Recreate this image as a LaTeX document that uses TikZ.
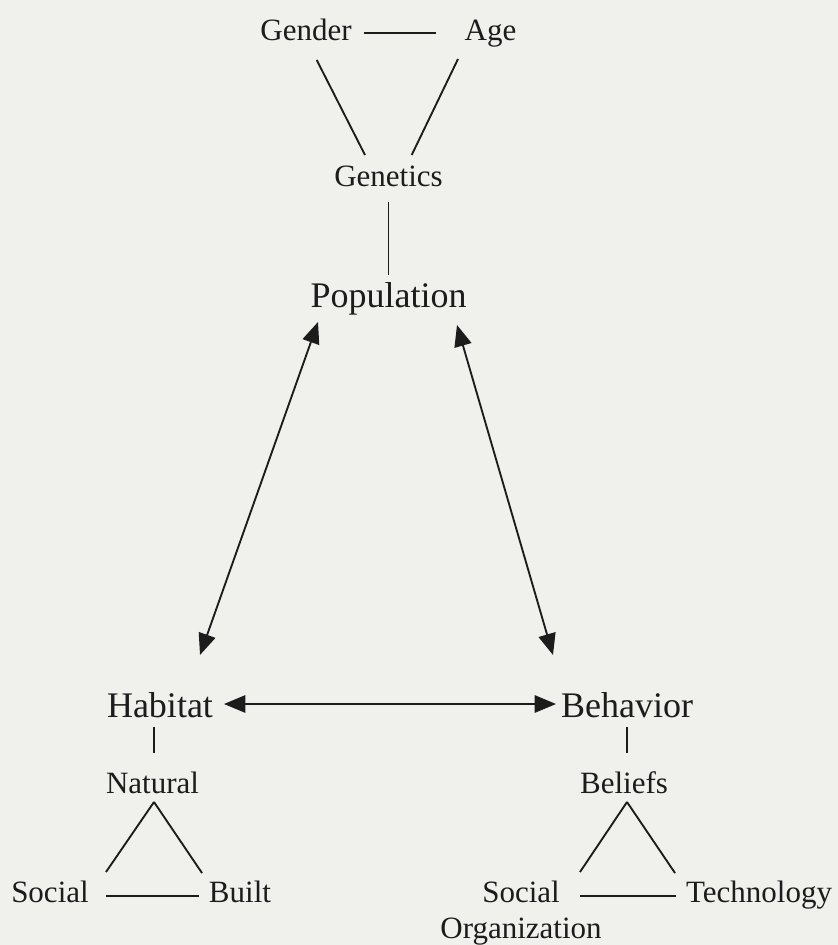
\documentclass[tikz,border=0pt]{standalone}
\usepackage{fontspec}
\setmainfont{Liberation Serif}
\usetikzlibrary{calc,arrows.meta}
\definecolor{paper}{RGB}{240,240,237}
\definecolor{ink}{RGB}{28,28,28}
\begin{document}
\begin{tikzpicture}[x=0.75pt,y=0.75pt,yscale=-1,xscale=1,
  lbl/.style={anchor=base,inner sep=0.75pt,text=ink,font=\fontsize{23.25}{27}\selectfont},
  biglbl/.style={lbl,font=\fontsize{27}{32}\selectfont},
  link/.style={draw=ink,line width=1.4pt},
  dbl/.style={link,{Triangle[length=16pt,width=13pt]}-{Triangle[length=16pt,width=13pt]}}]
%set diagram to the size of the page
\fill [paper] (0,0) rectangle (838,945);
\useasboundingbox (0,0) rectangle (838,945);

% Text Node
\draw (306,41) node [lbl] (gender) {Gender};
% Text Node
\draw (490.5,41) node [lbl] (age) {Age};
% Text Node
\draw (388.5,186.7) node [lbl] (genetics) {Genetics};
% Text Node
\draw (388.5,307) node [biglbl] (population) {Population};
% Text Node
\draw (160,717) node [biglbl] (habitat) {Habitat};
% Text Node
\draw (627,717) node [biglbl] (behavior) {Behavior};
% Text Node
\draw (152.5,793) node [lbl] (natural) {Natural};
% Text Node
\draw (624,793) node [lbl] (beliefs) {Beliefs};
% Text Node
\draw (50,902) node [lbl] (social) {Social};
% Text Node
\draw (240,902) node [lbl] (built) {Built};
% Text Node
\draw (521,938) node [lbl,align=center] (socorg) {Social\\Organization};
% Text Node
\draw (759,902) node [lbl] (technology) {Technology};

%Straight Lines
\draw [link] ($(gender.base)+(58,-8)$) -- ($(age.base)+(-54.5,-8)$);
\draw [link] ($(gender.base)+(10.7,19)$) -- ($(genetics.base)+(-23.5,-31.7)$);
\draw [link] ($(age.base)+(-32.5,18)$) -- ($(genetics.base)+(23.2,-31.7)$);
\draw [link] ($(genetics.base)+(0,15.3)$) -- ($(population.base)+(0,-32)$);
%Double Arrows
\draw [dbl] ($(population.base)+(-70.5,15)$) -- ($(habitat.base)+(40,-62)$);
\draw [dbl] ($(population.base)+(68.5,18)$) -- ($(behavior.base)+(-74,-62)$);
\draw [dbl] ($(habitat.base)+(64,-13)$) -- ($(behavior.base)+(-71,-13)$);
%Straight Lines
\draw [link] ($(habitat.base)+(-6,10)$) -- ($(natural.base)+(1.5,-40)$);
\draw [link] ($(natural.base)+(1.5,9)$) -- ($(social.base)+(56,-30)$);
\draw [link] ($(natural.base)+(1.5,9)$) -- ($(built.base)+(-38,-29)$);
\draw [link] ($(social.base)+(56,-6)$) -- ($(built.base)+(-41,-6)$);
%Straight Lines
\draw [link] ($(behavior.base)+(0,10)$) -- ($(beliefs.base)+(3,-40)$);
\draw [link] ($(beliefs.base)+(3,9)$) -- ($(socorg.base)+(59,-66)$);
\draw [link] ($(beliefs.base)+(3,9)$) -- ($(technology.base)+(-84,-29)$);
\draw [link] ($(socorg.base)+(59,-42)$) -- ($(technology.base)+(-83,-6)$);

\end{tikzpicture}
\end{document}
